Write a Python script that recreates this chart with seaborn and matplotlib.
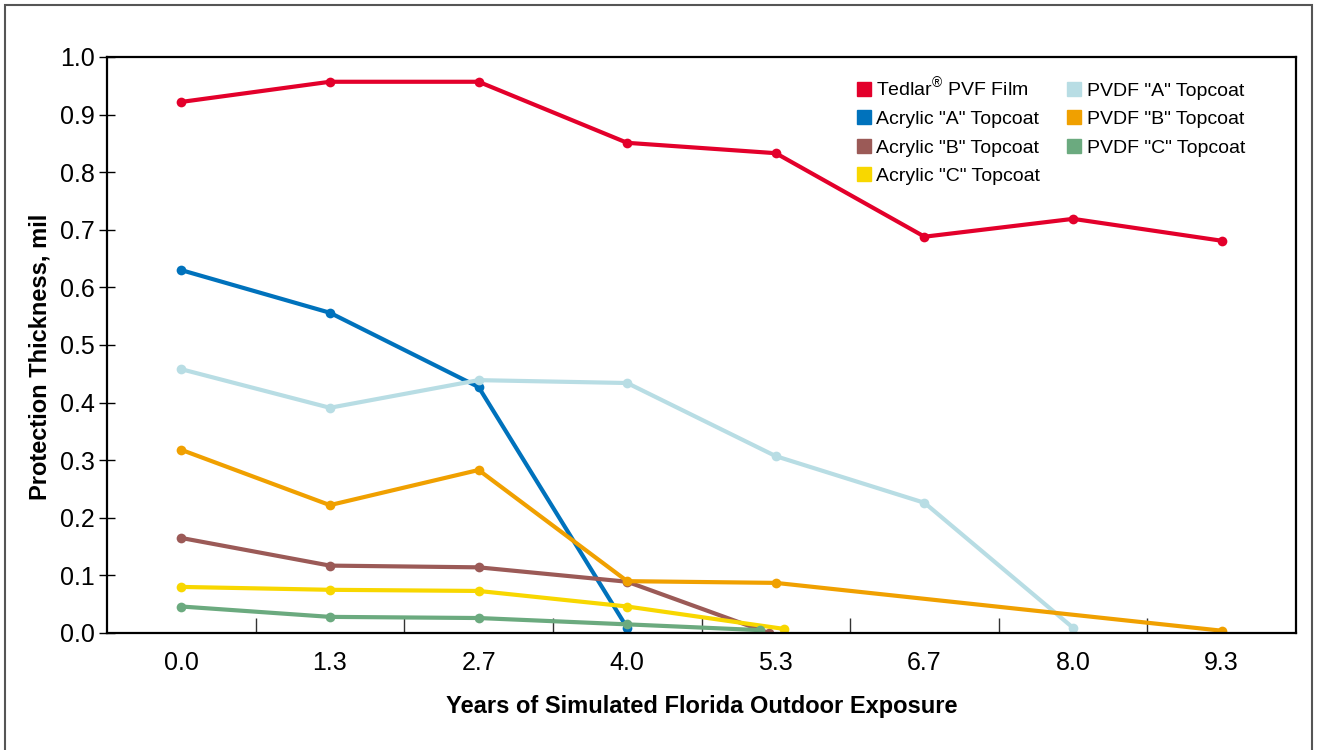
# plot.py — Protection thickness vs simulated Florida outdoor exposure.

import numpy as np
import pandas as pd
import matplotlib
matplotlib.use("Agg")
import matplotlib.pyplot as plt
from matplotlib.patches import Rectangle
import seaborn as sns

# tick positions are 4/3-year steps, labelled with one decimal
years = [0.0, 1.333, 2.667, 4.0, 5.333, 6.667, 8.0, 9.333]
year_labels = ["0.0", "1.3", "2.7", "4.0", "5.3", "6.7", "8.0", "9.3"]

tedlar_x = years
tedlar_y = [0.922, 0.957, 0.957, 0.851, 0.833, 0.688, 0.719, 0.681]

acrylic_a_x = years[:4]
acrylic_a_y = [0.630, 0.556, 0.427, 0.009]

acrylic_b_x = [0.0, 1.333, 2.667, 4.0, 5.27]
acrylic_b_y = [0.165, 0.117, 0.114, 0.089, 0.0]

acrylic_c_x = [0.0, 1.333, 2.667, 4.0, 5.41]
acrylic_c_y = [0.080, 0.075, 0.073, 0.046, 0.007]

pvdf_a_x = years[:7]
pvdf_a_y = [0.458, 0.391, 0.439, 0.434, 0.307, 0.226, 0.009]

pvdf_b_x = years
pvdf_b_y = [0.318, 0.222, 0.283, 0.090, 0.087, np.nan, np.nan, 0.004]

pvdf_c_x = [0.0, 1.333, 2.667, 4.0, 5.19]
pvdf_c_y = [0.046, 0.028, 0.026, 0.015, 0.005]

series = [
    ("Tedlar$^{®}$ PVF Film", tedlar_x, tedlar_y, "#E3002B"),
    ('Acrylic "A" Topcoat', acrylic_a_x, acrylic_a_y, "#0072BC"),
    ('Acrylic "B" Topcoat', acrylic_b_x, acrylic_b_y, "#9B5A57"),
    ('Acrylic "C" Topcoat', acrylic_c_x, acrylic_c_y, "#F8D700"),
    ('PVDF "A" Topcoat', pvdf_a_x, pvdf_a_y, "#B8DDE4"),
    ('PVDF "B" Topcoat', pvdf_b_x, pvdf_b_y, "#F0A000"),
    ('PVDF "C" Topcoat', pvdf_c_x, pvdf_c_y, "#6BAA7F"),
]

rows = []
for name, xs, ys, _ in series:
    for x, y in zip(xs, ys):
        rows.append({"series": name, "years": x, "thickness": y})
df = pd.DataFrame(rows).dropna()
palette = {name: c for name, _, _, c in series}
order = [name for name, _, _, _ in series]

sns.set_style("white")
plt.rcParams["font.family"] = ["Liberation Sans", "DejaVu Sans"]
plt.rcParams["mathtext.fontset"] = "custom"
plt.rcParams["mathtext.rm"] = "Liberation Sans"
plt.rcParams["text.color"] = "black"
plt.rcParams["axes.labelcolor"] = "black"
plt.rcParams["xtick.color"] = "black"
plt.rcParams["ytick.color"] = "black"

fig = plt.figure(figsize=(13.19, 7.5), dpi=100)
ax = fig.add_axes([0.0811, 0.156, 0.9015, 0.768])

sns.lineplot(data=df, x="years", y="thickness", hue="series", hue_order=order,
             palette=palette, marker="o", markersize=7, markeredgewidth=0,
             linewidth=3, sort=False, ax=ax, legend=False)

ax.set_xlim(-2 / 3, 10)
ax.set_ylim(0, 1.0)
ax.set_xticks(years)
ax.set_xticklabels(year_labels)
ax.set_xticks([2 / 3 + k * 4 / 3 for k in range(7)], minor=True)
ax.tick_params(axis="x", which="major", bottom=True, length=0, labelsize=18,
               pad=13)
ax.tick_params(axis="x", which="minor", bottom=True, direction="in", length=11,
               width=1, color="#333333")
ax.set_yticks(np.arange(0, 1.01, 0.1))
ax.set_yticklabels([f"{v:.1f}" for v in np.arange(0, 1.01, 0.1)])
ax.tick_params(axis="y", left=True, direction="inout", length=11, width=1,
               labelsize=18, pad=3)

for s in ax.spines.values():
    s.set_color("black")
    s.set_linewidth(1.6)

ax.set_xlabel("Years of Simulated Florida Outdoor Exposure", fontsize=17,
              fontweight="bold", labelpad=14)
ax.set_ylabel("Protection Thickness, mil", fontsize=17, fontweight="bold")
ax.yaxis.set_label_coords(-0.047, 0.48)

# legend in two columns, square swatches
handles = [plt.Line2D([], [], marker="s", linestyle="none", markersize=10,
                      color=c) for _, _, _, c in series]
leg = ax.legend(handles, order, ncol=2, frameon=False, fontsize=14,
                loc="upper left", bbox_to_anchor=(0.615, 0.999),
                handlelength=0.8, handletextpad=0.25, columnspacing=1.35,
                labelspacing=0.56)

# outer frame around the figure
fig.patches.append(Rectangle((0.004, -0.01), 0.991, 1.003, transform=fig.transFigure,
                             fill=False, edgecolor="#555555", linewidth=1.5))

fig.savefig("out.png", dpi=100)
plt.close(fig)
print("[OK] out.png")
